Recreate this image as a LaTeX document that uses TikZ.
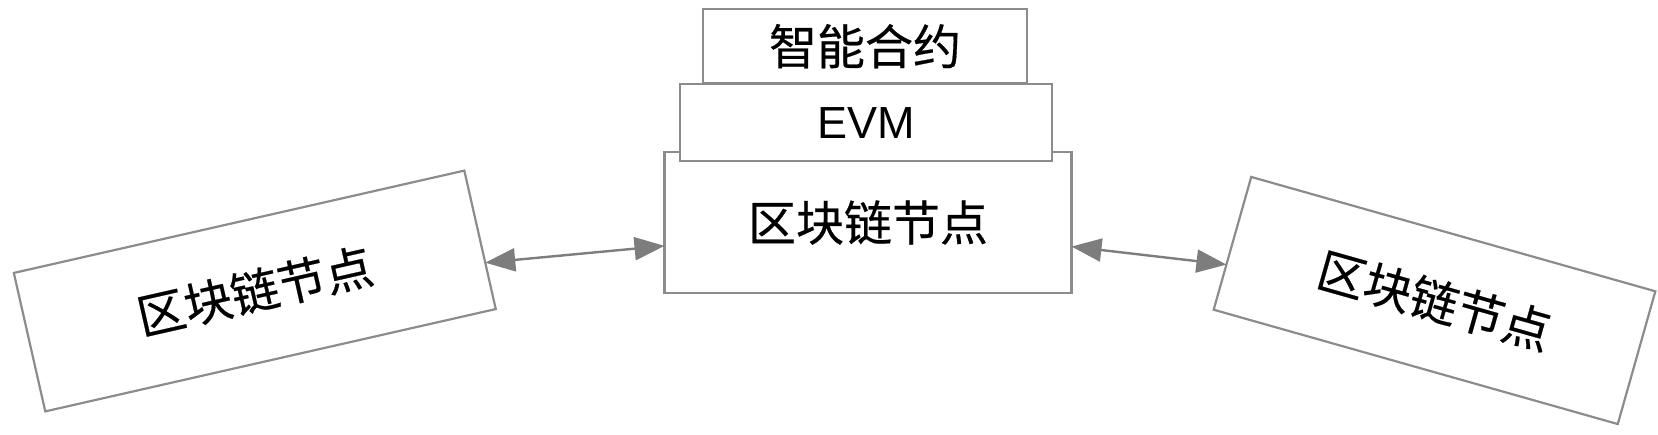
\documentclass[tikz,border=0pt]{standalone}
\usepackage{fontspec}
\setmainfont{Liberation Sans}
\newfontfamily\cjk[FakeBold=0.4]{Noto Sans CJK SC}
\usetikzlibrary{arrows.meta,calc}
\definecolor{edgegray}{RGB}{140,140,140}
\definecolor{arrowgray}{RGB}{125,125,125}
\begin{document}
\begin{tikzpicture}[x=1pt,y=1pt,
  box/.style={draw=edgegray,line width=2.2pt,fill=white,inner sep=0pt,outer sep=0pt,
    font=\cjk\fontsize{48}{56}\selectfont},
  evmbox/.style={box,font=\fontsize{45}{52}\selectfont},
  link/.style={draw=arrowgray,line width=2.4pt,
    {Triangle[length=30pt,width=23pt]}-{Triangle[length=30pt,width=23pt]}}]
\useasboundingbox (0,0) rectangle (1658,434);
\node[box,minimum width=462pt,minimum height=142pt,rotate=12.8] (L) at (254.8,143) {区块链节点};
\node[box,minimum width=420pt,minimum height=138pt,rotate=-15.8] (R) at (1434.5,133.5) {区块链节点};
\node[box,minimum width=407pt,minimum height=141.6pt] (C) at (868,211.5) {区块链节点};
\node[box,minimum width=323.4pt,minimum height=74.3pt] (S) at (865,387.8) {智能合约};
\node[evmbox,minimum width=371.7pt,minimum height=76.7pt] (E) at (865.8,311.3) {EVM};
\coordinate (La) at ($(L.east)!0.33!(L.south east)$);
\coordinate (Ca) at ($(C.west)!0.33!(C.south west)$);
\coordinate (Cb) at ($(C.east)!0.34!(C.south east)$);
\coordinate (Ra) at ($(R.west)!0.32!(R.south west)$);
\draw[link] (La) -- (Ca);
\draw[link] (Cb) -- (Ra);
\end{tikzpicture}
\end{document}
